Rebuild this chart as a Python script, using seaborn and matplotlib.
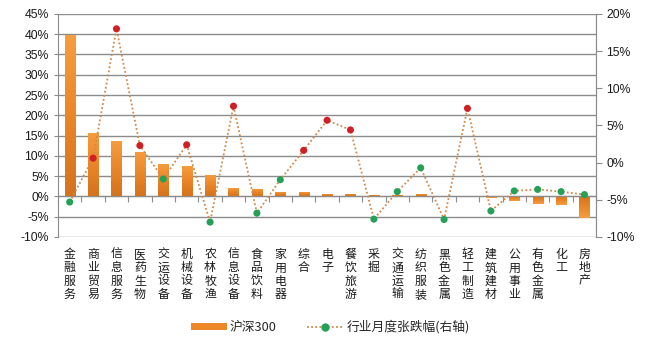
import matplotlib
matplotlib.use("Agg")
import matplotlib.pyplot as plt
import matplotlib.transforms as mtransforms
from matplotlib.lines import Line2D
from matplotlib.patches import Patch
from matplotlib.colors import LinearSegmentedColormap
from matplotlib.ticker import FuncFormatter, MultipleLocator, FixedLocator
import seaborn as sns
import pandas as pd
import numpy as np

industries = ["金融服务", "商业贸易", "信息服务", "医药生物", "交运设备", "机械设备", "农林牧渔",
              "信息设备", "食品饮料", "家用电器", "综合", "电子", "餐饮旅游", "采掘", "交通运输",
              "纺织服装", "黑色金属", "轻工制造", "建筑建材", "公用事业", "有色金属", "化工", "房地产"]
hs300_pct = [39.7, 15.6, 13.6, 11.0, 8.0, 7.6, 5.4, 2.1, 1.9, 1.0, 1.0, 0.7, 0.6, 0.3, 0.4,
             0.5, 0.2, 0.1, -0.5, -1.1, -1.8, -2.0, -5.4]
monthly_pct = [-5.3, 0.6, 18.0, 2.3, -2.2, 2.4, -8.0, 7.6, -6.8, -2.3, 1.65, 5.7, 4.4, -7.6,
               -3.9, -0.7, -7.65, 7.3, -6.5, -3.8, -3.6, -3.9, -4.3]
legend_labels = ["沪深300", "行业月度张跌幅(右轴)"]

df = pd.DataFrame({"industry": industries, "hs300": hs300_pct, "monthly": monthly_pct})
df["sign"] = np.where(df["monthly"] >= 0, "up", "down")

sns.set_style("white")
plt.rcParams["font.family"] = ["Liberation Sans", "Noto Sans CJK SC"]

BAR = "#EE8729"
LINE = "#CF8A4E"
RED = "#D11F26"
GREEN = "#24A057"
GRID = "#8C8C8C"
TXT = "#1a1a1a"
grad_cmap = LinearSegmentedColormap.from_list("bar", ["#D4731E", "#EA8628", "#F69D3F"])

fig = plt.figure(figsize=(6.5, 3.4), dpi=100)
ax = fig.add_axes([0.0892, 0.303, 0.828, 0.656])

ax.grid(axis="y", color=GRID, linewidth=1.0, zorder=0)
ax.set_axisbelow(True)

sns.barplot(data=df, x="industry", y="hs300", color=BAR, width=0.44, ax=ax,
            saturation=1, linewidth=0, zorder=3)

# vertical gradient fill inside each bar (dark at base, light at top)
grad = np.linspace(0, 1, 64).reshape(-1, 1)
for patch in list(ax.patches):
    bb = patch.get_bbox()
    im = ax.imshow(grad, extent=[bb.x0, bb.x1, bb.y0, bb.y1], origin="lower", aspect="auto",
                   cmap=grad_cmap, zorder=3.5, interpolation="bilinear")
    im.set_clip_path(patch)

ax.set_ylim(-10, 45)
ax.set_xlim(-0.5, len(industries) - 0.5)
ax.yaxis.set_major_locator(MultipleLocator(5))
ax.yaxis.set_major_formatter(FuncFormatter(lambda v, p: f"{v:.0f}%"))
ax.set_xlabel("")
ax.set_ylabel("")

# category axis at zero with boundary ticks
ax.spines["bottom"].set_position(("data", 0))
ax.spines["bottom"].set_color(GRID)
ax.spines["bottom"].set_zorder(4)
ax.xaxis.set_major_locator(FixedLocator(np.arange(-0.5, len(industries), 1.0)))
ax.set_xticklabels([])
ax.tick_params(axis="x", length=4, color=GRID, direction="out", bottom=True)
ax.spines["top"].set_visible(False)
ax.spines["right"].set_color(GRID)
ax.spines["left"].set_color(GRID)
ax.tick_params(axis="y", labelsize=8.8, colors=TXT, length=3, color=GRID, left=True)

trans = mtransforms.blended_transform_factory(ax.transData, ax.transAxes)
for i, name in enumerate(industries):
    ax.text(i, -0.05, "\n".join(name), transform=trans, ha="center", va="top",
            fontsize=8.6, linespacing=1.02, color=TXT, family=["Noto Sans CJK SC", "DejaVu Sans"])

ax2 = ax.twinx()
ax2.grid(False)
sns.lineplot(data=df, x="industry", y="monthly", ax=ax2, color=LINE, linestyle=(0, (1, 1.3)),
             linewidth=1.3, sort=False, zorder=4)
sns.scatterplot(data=df, x="industry", y="monthly", hue="sign", palette={"up": RED, "down": GREEN},
                s=26, edgecolor="none", ax=ax2, legend=False, zorder=5)
ax2.set_ylim(-10, 20)
ax2.yaxis.set_major_locator(MultipleLocator(5))
ax2.yaxis.set_major_formatter(FuncFormatter(lambda v, p: f"{v:.0f}%"))
ax2.set_xlim(-0.5, len(industries) - 0.5)
ax2.set_ylabel("")
ax2.set_xlabel("")
ax2.grid(False)
for s in ["top", "bottom", "left"]:
    ax2.spines[s].set_visible(False)
ax2.spines["right"].set_color(GRID)
ax2.tick_params(axis="y", labelsize=8.8, colors=TXT, length=4, color=GRID, right=True)

handles = [Patch(facecolor=BAR, edgecolor="none"),
           Line2D([0], [0], color=LINE, linestyle=(0, (1, 1.3)), linewidth=1.3,
                  marker="o", markersize=5, markerfacecolor=GREEN, markeredgecolor=GREEN)]
fig.legend(handles, legend_labels, loc="center", bbox_to_anchor=(0.508, 0.038), ncol=2,
           frameon=False, handlelength=2.8, handleheight=0.55, columnspacing=2.4,
           handletextpad=0.25, prop={"family": ["Noto Sans CJK SC", "DejaVu Sans"], "size": 9.2})

fig.savefig("out.png", dpi=100, facecolor="white")
